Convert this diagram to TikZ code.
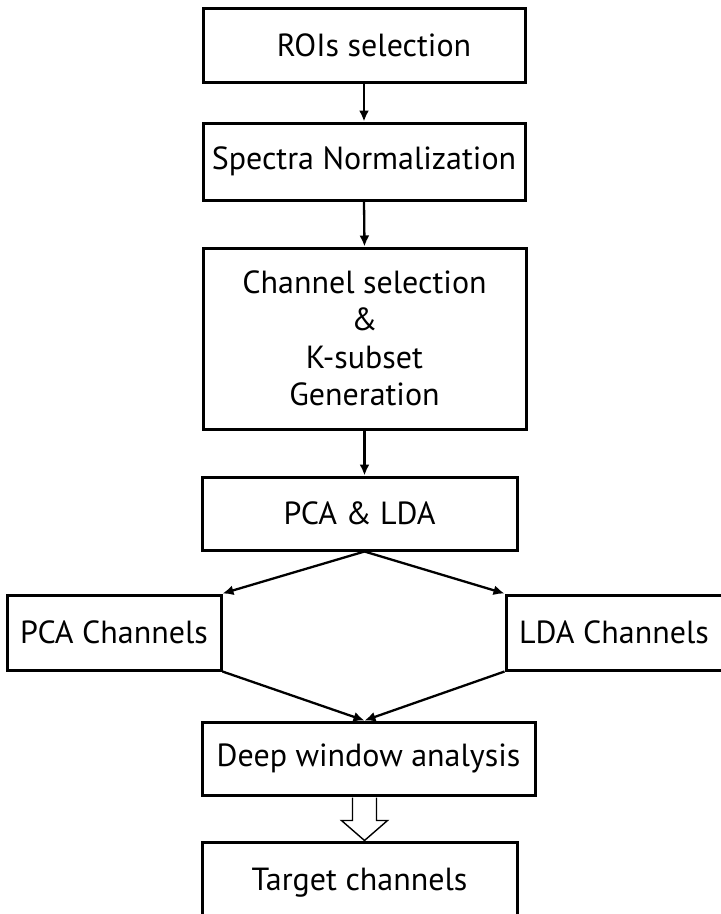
\documentclass[tikz,border=0pt]{standalone}
\usepackage{fontspec}
\setmainfont{PT Sans}
\usetikzlibrary{arrows.meta,calc}

\tikzset{
  stage/.style={draw=black, line width=3pt, fill=white, inner sep=0pt,
    align=center, font=\fontsize{32}{37.5}\selectfont},
  flow/.style={line width=2.3pt, -{Latex[length=11pt,width=10pt]}},
  bigarrow/.style={draw=black, line width=1.4pt, fill=white}
}

\begin{document}
\begin{tikzpicture}[x=1pt, y=-1pt]
  \useasboundingbox (0,0) rectangle (721,914);
  \clip (0,0) rectangle (721,914);

  % processing stages
  \node[stage, minimum width=322pt, minimum height=74pt] (roi) at (364,45)
    {\hspace*{20pt}ROIs selection};
  \node[stage, minimum width=322pt, minimum height=77pt] (norm) at (364,161.5)
    {Spectra Normalization};
  \node[stage, minimum width=323pt, minimum height=181pt] (chan) at (364.5,338.5)
    {Channel selection\\\&\\K-subset\\Generation};
  \node[stage, minimum width=315pt, minimum height=73pt] (pl) at (359.5,513.5)
    {PCA \& LDA};
  \node[stage, minimum width=214pt, minimum height=75pt] (pca) at (114,632.5)
    {PCA Channels};
  \node[stage, minimum width=226pt, minimum height=75pt] (lda) at (619,632.5)
    {\hspace*{-10pt}LDA Channels};
  \node[stage, minimum width=333pt, minimum height=73pt] (deep) at (368.5,758.5)
    {Deep window analysis};
  \node[stage, minimum width=315pt, minimum height=82pt] (target) at (359.5,883)
    {Target channels};

  % connection points on the main axis
  \coordinate (split) at (chan.south |- pl.south);
  \coordinate (join) at (chan.south |- deep.north);
  \coordinate (hs) at (chan.south |- deep.south);

  % connectors
  \draw[flow] (roi.south) -- (norm.north);
  \draw[flow] (norm.south) -- (chan.north);
  \draw[flow] (chan.south) -- (chan.south |- pl.north);
  \draw[flow] (split) -- (pca.north east);
  \draw[flow] (split) -- (lda.north west);
  \draw[flow] (pca.south east) -- (join);
  \draw[flow] (lda.south west) -- (join);

  % hollow block arrow into the final stage
  \draw[bigarrow] ($(hs)+(-12,1)$) -- ($(hs)+(-12,24)$) -- ($(hs)+(-23,24)$)
    -- (chan.south |- target.north) -- ($(hs)+(23,24)$) -- ($(hs)+(12,24)$)
    -- ($(hs)+(12,1)$);
\end{tikzpicture}
\end{document}
